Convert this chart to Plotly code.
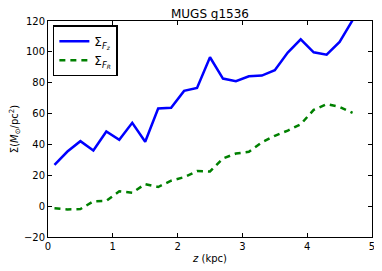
import plotly.graph_objects as go

z = [0.1, 0.3, 0.5, 0.7, 0.9, 1.1, 1.3, 1.5, 1.7, 1.9, 2.1, 2.3,
     2.5, 2.7, 2.9, 3.1, 3.3, 3.5, 3.7, 3.9, 4.1, 4.3, 4.5, 4.7]
sigma_fz = [26.8, 35.4, 42.1, 36.1, 48.4, 43.0, 54.0, 41.7, 63.3, 63.7, 74.7, 76.6,
            96.5, 82.7, 81.0, 84.2, 84.6, 88.1, 99.5, 108.1, 99.7, 98.2, 106.4, 120.5]
sigma_fr = [-1.4, -2.1, -1.9, 3.1, 3.5, 9.6, 8.7, 14.3, 12.4, 16.5, 18.8, 22.7,
            22.5, 30.9, 34.1, 35.2, 41.3, 45.6, 49.0, 53.1, 62.4, 66.1, 64.3, 60.5]
x_ticks = [0, 1, 2, 3, 4, 5]
y_ticks = [-20, 0, 20, 40, 60, 80, 100, 120]

font = "DejaVu Sans"

fig = go.Figure()
fig.add_trace(go.Scatter(x=z, y=sigma_fz, mode="lines",
                         name="Σ<sub><i>F<sub>z</sub></i></sub>",
                         line=dict(color="#0000ff", width=2.5)))
fig.add_trace(go.Scatter(x=z, y=sigma_fr, mode="lines",
                         name="Σ<sub><i>F<sub>R</sub></i></sub>",
                         line=dict(color="#008000", width=2.5, dash="6px,5px")))

axis_common = dict(showline=True, linecolor="black", linewidth=1, mirror="allticks",
                   ticks="inside", ticklen=4, tickcolor="black", showgrid=False,
                   zeroline=False, ticklabeloverflow="allow", automargin=False,
                   tickfont=dict(family=font, size=10, color="black"))

# page body has an 8px margin, so the figure is made 8px smaller and margins trimmed
fig.update_layout(
    width=374, height=263,
    margin=dict(l=40, r=10, t=13, b=34, autoexpand=False),
    paper_bgcolor="white", plot_bgcolor="white",
    title=dict(text="MUGS g1536", xref="paper", x=0.5, xanchor="center",
               yref="paper", y=1.0, yanchor="bottom", pad=dict(b=3),
               automargin=False,
               font=dict(family=font, size=12, color="black")),
    xaxis=dict(range=[0, 5], tickvals=x_ticks,
               title=dict(text="<i>z</i> (kpc)", standoff=3,
                          font=dict(family=font, size=10, color="black")),
               **axis_common),
    yaxis=dict(range=[-20, 120], tickvals=y_ticks,
               title=dict(text="Σ(<i>M</i><sub>⊙</sub>/pc<sup>2</sup>)", standoff=8,
                          font=dict(family=font, size=10, color="black")),
               **axis_common),
    legend=dict(x=0.015, y=0.98, xanchor="left", yanchor="top",
                bgcolor="white", bordercolor="black", borderwidth=1.5,
                itemwidth=30, font=dict(family=font, size=12, color="black"),
                tracegroupgap=0),
    showlegend=True,
)

fig.write_html("out.html")
